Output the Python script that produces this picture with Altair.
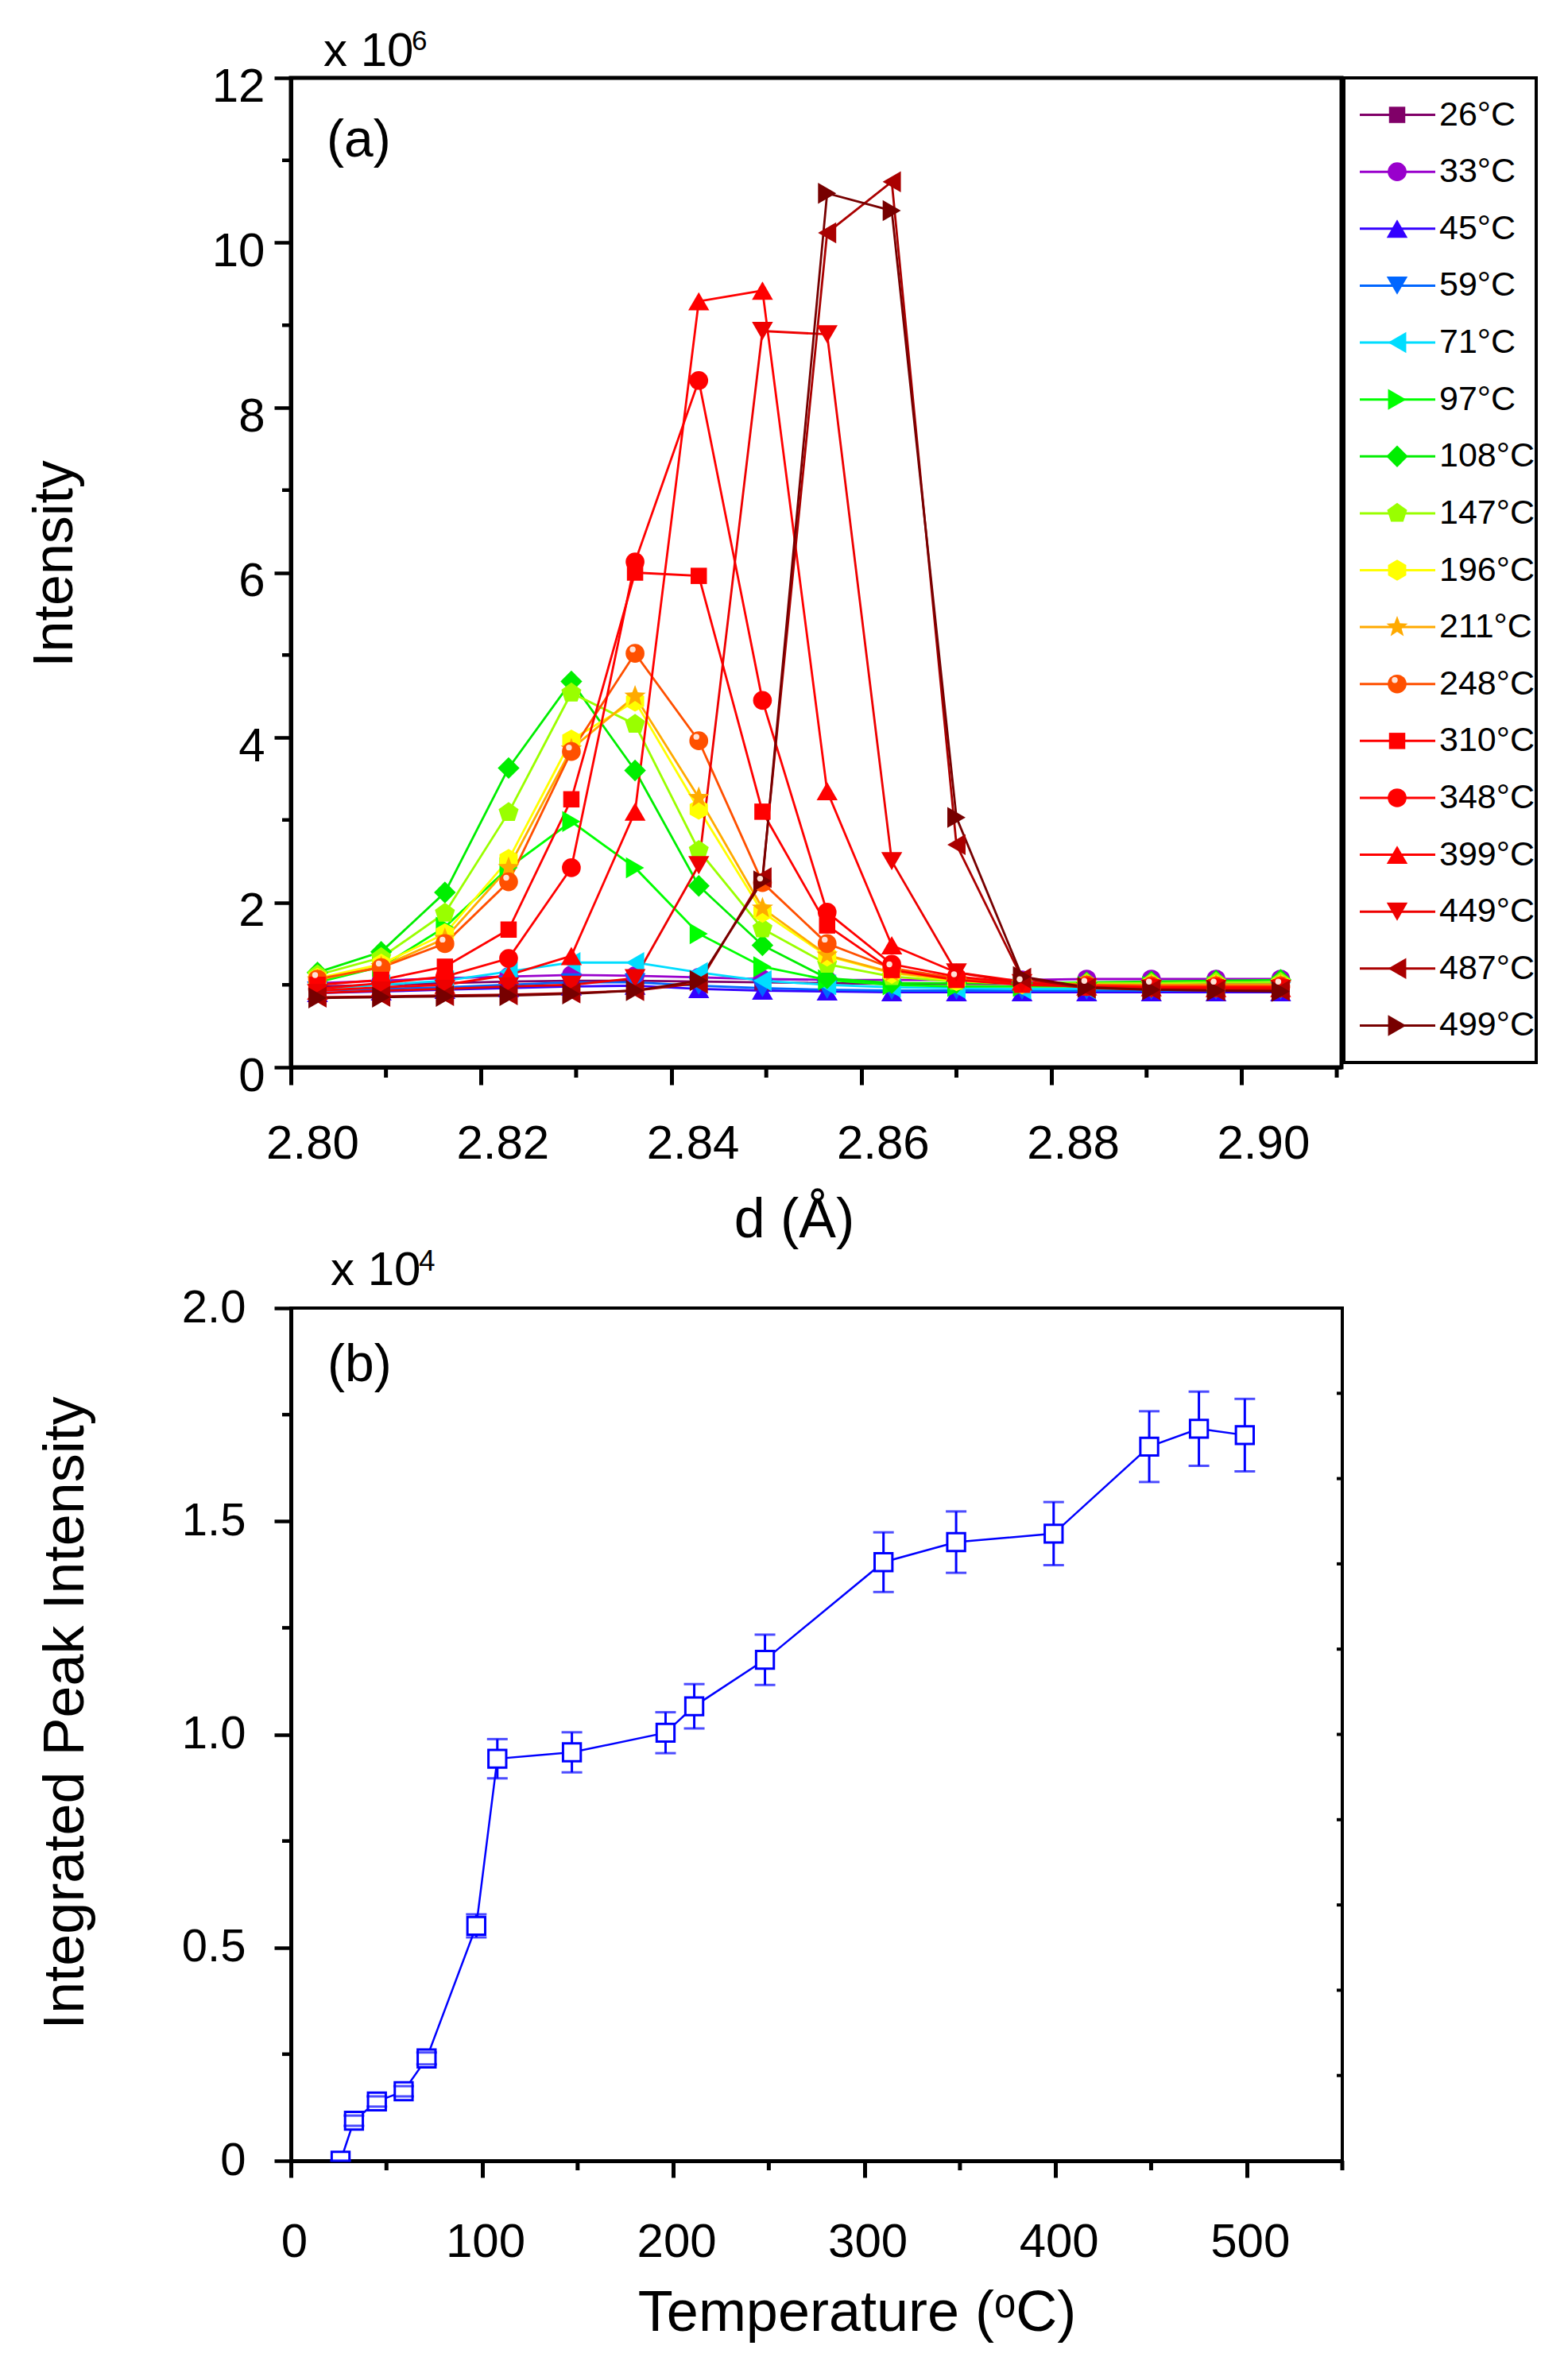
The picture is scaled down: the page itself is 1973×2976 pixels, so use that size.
import pandas as pd
import altair as alt

FONT = 'Liberation Sans'

# ---------------- (a) peak profile at each temperature ----------------
d_spacing = [2.8003, 2.8070, 2.8137, 2.8204, 2.8270, 2.8337, 2.8404, 2.8471,
             2.8539, 2.8607, 2.8675, 2.8744, 2.8812, 2.8880, 2.8948, 2.9016]

labels = ['26°C', '33°C', '45°C', '59°C', '71°C', '97°C', '108°C', '147°C', '196°C',
          '211°C', '248°C', '310°C', '348°C', '399°C', '449°C', '487°C', '499°C']

# intensity, x 10^6
i026 = [0.98, 1.00, 1.02, 1.04, 1.05, 1.05, 1.04, 1.03, 1.02, 1.01, 1.01, 1.01, 1.02, 1.02, 1.02, 1.02]
i033 = [1.02, 1.05, 1.08, 1.10, 1.12, 1.11, 1.09, 1.07, 1.06, 1.06, 1.06, 1.06, 1.07, 1.07, 1.07, 1.07]
i045 = [0.90, 0.92, 0.94, 0.96, 0.98, 0.99, 0.95, 0.93, 0.92, 0.91, 0.91, 0.91, 0.91, 0.91, 0.91, 0.91]
i059 = [0.93, 0.95, 0.97, 1.00, 1.03, 1.03, 0.99, 0.96, 0.94, 0.93, 0.93, 0.93, 0.93, 0.93, 0.93, 0.93]
i071 = [0.95, 1.00, 1.05, 1.16, 1.27, 1.27, 1.15, 1.05, 1.00, 0.97, 0.96, 0.95, 0.95, 0.95, 0.95, 0.95]
i097 = [1.03, 1.22, 1.70, 2.42, 2.98, 2.42, 1.62, 1.22, 1.06, 1.00, 0.98, 0.98, 0.98, 0.98, 0.98, 0.98]
i108 = [1.15, 1.40, 2.12, 3.63, 4.68, 3.60, 2.20, 1.48, 1.08, 1.02, 1.02, 1.02, 1.03, 1.04, 1.05, 1.06]
i147 = [1.12, 1.33, 1.87, 3.09, 4.54, 4.16, 2.63, 1.68, 1.25, 1.10, 1.04, 1.02, 1.02, 1.02, 1.03, 1.03]
i196 = [1.08, 1.25, 1.62, 2.52, 3.97, 4.44, 3.13, 1.88, 1.35, 1.14, 1.05, 1.01, 1.00, 1.00, 1.00, 1.00]
i211 = [1.06, 1.22, 1.56, 2.42, 3.86, 4.50, 3.27, 1.93, 1.36, 1.15, 1.06, 1.01, 1.00, 1.00, 1.00, 1.00]
i248 = [1.07, 1.21, 1.50, 2.25, 3.83, 5.02, 3.96, 2.24, 1.50, 1.20, 1.08, 1.02, 1.00, 0.99, 0.99, 0.99]
i310 = [1.00, 1.06, 1.22, 1.67, 3.25, 6.00, 5.96, 3.10, 1.72, 1.18, 1.06, 1.00, 0.98, 0.97, 0.97, 0.97]
i348 = [0.95, 1.02, 1.10, 1.32, 2.42, 6.13, 8.33, 4.45, 1.88, 1.25, 1.10, 1.02, 0.98, 0.97, 0.97, 0.97]
i399 = [0.93, 0.97, 1.00, 1.12, 1.35, 3.10, 9.29, 9.42, 3.35, 1.48, 1.15, 1.04, 0.98, 0.97, 0.96, 0.96]
i449 = [0.90, 0.93, 0.95, 0.98, 1.00, 1.08, 2.45, 8.93, 8.89, 2.50, 1.15, 1.02, 0.97, 0.95, 0.95, 0.95]
i487 = [0.85, 0.86, 0.87, 0.88, 0.90, 0.93, 1.02, 2.30, 10.12, 10.74, 2.70, 1.08, 0.96, 0.94, 0.93, 0.93]
i499 = [0.84, 0.85, 0.86, 0.87, 0.89, 0.93, 1.05, 2.26, 10.60, 10.39, 3.03, 1.10, 0.97, 0.94, 0.93, 0.92]

series = [i026, i033, i045, i059, i071, i097, i108, i147, i196,
          i211, i248, i310, i348, i399, i449, i487, i499]

# ---------------- (b) integrated peak intensity ----------------
temp_b = [26, 33, 45, 59, 71, 97, 108, 147, 196, 211, 248, 310, 348, 399, 449, 475, 499]
peak_b = [0.0, 0.094, 0.139, 0.163, 0.240, 0.551, 0.943, 0.958, 1.004, 1.066, 1.175,
          1.404, 1.451, 1.471, 1.675, 1.717, 1.702]
err_b = [0.0, 0.012, 0.012, 0.012, 0.014, 0.027, 0.046, 0.047, 0.048, 0.052, 0.059,
         0.070, 0.072, 0.074, 0.083, 0.087, 0.085]

# axis ticks
xa_major = [2.7975, 2.8175, 2.8375, 2.8575, 2.8775, 2.8975]
xa_minor = [2.8075, 2.8275, 2.8475, 2.8675, 2.8875, 2.9075]
ya_major = [0, 2, 4, 6, 8, 10, 12]
ya_minor = [1, 3, 5, 7, 9, 11]
xb_major = [0, 100, 200, 300, 400, 500]
xb_minor = [50, 150, 250, 350, 450, 550]
yb_major = [0, 0.5, 1.0, 1.5, 2.0]
yb_minor = [0.25, 0.75, 1.25, 1.75]
yb_right = [0.2, 0.4, 0.6, 0.8, 1.0, 1.2, 1.4, 1.6, 1.8]

# styles
colors = ['#800068', '#9900CC', '#3300FF', '#0066FF', '#00DDFF', '#00FF00', '#00EE00',
          '#99FF00', '#FFFF00', '#FFAA00', '#FF5000', '#FF0000', '#FF0000', '#FF0000',
          '#EE0000', '#AA0000', '#770000']
PENT = 'M0,-1L0.951,-0.309L0.588,0.809L-0.588,0.809L-0.951,-0.309Z'
HEX = 'M0,-1L0.866,-0.5L0.866,0.5L0,1L-0.866,0.5L-0.866,-0.5Z'
STAR = ('M0,-1L0.247,-0.34L0.951,-0.309L0.399,0.13L0.588,0.809L0,0.42'
        'L-0.588,0.809L-0.399,0.13L-0.951,-0.309L-0.247,-0.34Z')
shapes = ['square', 'circle', 'triangle-up', 'triangle-down', 'triangle-left',
          'triangle-right', 'diamond', PENT, HEX, STAR, 'circle', 'square', 'circle',
          'triangle-up', 'triangle-down', 'triangle-left', 'triangle-right']
sizes = [420, 560, 700, 700, 700, 700, 750, 700, 700, 800, 560, 420, 560, 700, 700, 700, 700]

W_A, H_A = 1322, 1245
W_L, H_L = 242, 1239
W_B, H_B = 1323, 1073

rows = []
for lab, vals in zip(labels, series):
    for d, v in zip(d_spacing, vals):
        rows.append({'label': lab, 'd': d, 'I': v})
df_a = pd.DataFrame(rows)

color_enc = alt.Color('label:N', scale=alt.Scale(domain=labels, range=colors), legend=None)
shape_enc = alt.Shape('label:N', scale=alt.Scale(domain=labels, range=shapes), legend=None)
size_enc = alt.Size('label:N', scale=alt.Scale(type='ordinal', domain=labels, range=sizes), legend=None)


def axis(**kw):
    base = dict(grid=False, domainColor='black', domainWidth=5, tickColor='black',
                labelFont=FONT, labelColor='black', labelFlush=False, labelOverlap=False,
                titleFont=FONT, titleColor='black', titleFontWeight='normal',
                titleBaseline='middle')
    base.update(kw)
    return alt.Axis(**base)


ax_xa = axis(values=xa_major, labelExpr="format(datum.value + 0.0025, '.2f')",
             labelOffset=27, tickSize=22, tickWidth=5, labelFontSize=60, labelPadding=45,
             title='d (Å)', titleFontSize=70, titleX=633, titleY=192)
ax_ya = axis(values=ya_major, tickSize=21, tickWidth=4.5, labelFontSize=60,
             labelPadding=12, labelOffset=11, title='Intensity', titleFontSize=70,
             titleX=-297, titleY=611)

xa = alt.X('d:Q', scale=alt.Scale(domain=[2.7975, 2.908], nice=False, zero=False), axis=ax_xa)
ya = alt.Y('I:Q', scale=alt.Scale(domain=[0, 12], nice=False), axis=ax_ya)


def note(text, dx, dy, size, baseline='alphabetic'):
    return alt.Chart(pd.DataFrame({'t': [text]})).mark_text(
        font=FONT, fontSize=size, align='left', baseline=baseline, color='black'
    ).encode(x=alt.value(dx), y=alt.value(dy), text='t:N')


lines_a = alt.Chart(df_a).mark_line(strokeWidth=2.8).encode(x=xa, y=ya, color=color_enc)
points_a = alt.Chart(df_a).mark_point(filled=True, opacity=1).encode(
    x=xa, y=ya, color=color_enc, shape=shape_enc, size=size_enc)
shine_a = alt.Chart(df_a).transform_filter(alt.datum.label == '248°C').mark_point(
    filled=True, opacity=1, color='#FFE2D6', shape='circle', size=55, xOffset=-3, yOffset=-5
).encode(x=xa, y=ya)
minor_xa = alt.Chart(pd.DataFrame({'d': xa_minor})).mark_rule(color='black', strokeWidth=5).encode(
    x=xa, y=alt.value(H_A), y2=alt.value(H_A + 13))
minor_ya = alt.Chart(pd.DataFrame({'I': ya_minor})).mark_rule(color='black', strokeWidth=4.5).encode(
    y=ya, x=alt.value(0), x2=alt.value(-11))

top = alt.layer(
    lines_a, points_a, shine_a, minor_xa, minor_ya,
    note('x 10', 41, -15, 60), note('6', 152, -35, 35), note('(a)', 45, 79, 66, 'middle')
).properties(width=W_A, height=H_A,
             view=alt.ViewBackground(stroke='black', strokeWidth=5, fill='white'))

# legend panel
df_leg = pd.DataFrame({'label': labels})
ly = alt.Y('label:N', scale=alt.Scale(type='point', domain=labels, padding=0.65), axis=None)
leg_line = alt.Chart(df_leg).mark_rule(strokeWidth=3).encode(
    x=alt.value(20), x2=alt.value(115), y=ly, color=color_enc)
leg_pts = alt.Chart(df_leg).mark_point(filled=True, opacity=1).encode(
    x=alt.value(67), y=ly, color=color_enc, shape=shape_enc, size=size_enc)
leg_shine = alt.Chart(df_leg).transform_filter(alt.datum.label == '248°C').mark_point(
    filled=True, opacity=1, color='#FFE2D6', shape='circle', size=55, xOffset=-3, yOffset=-5
).encode(x=alt.value(67), y=ly)
leg_txt = alt.Chart(df_leg).mark_text(
    font=FONT, fontSize=43, align='left', baseline='middle', color='black'
).encode(x=alt.value(120), y=ly, text='label:N')
legend = alt.layer(leg_line, leg_pts, leg_shine, leg_txt).properties(
    width=W_L, height=H_L, view=alt.ViewBackground(stroke='black', strokeWidth=4, fill='white'))

# ---------------- bottom panel ----------------
df_b = pd.DataFrame({'T': temp_b, 'P': peak_b,
                     'lo': [p - e for p, e in zip(peak_b, err_b)],
                     'hi': [p + e for p, e in zip(peak_b, err_b)]})

ax_xb = axis(values=xb_major, tickSize=21, tickWidth=5, labelFontSize=60, labelPadding=52,
             labelOffset=4, title='Temperature (ᵒC)', titleFontSize=72, titleX=712, titleY=191)
ax_yb = axis(values=yb_major, labelExpr="datum.value == 0 ? '0' : format(datum.value, '.1f')",
             tickSize=21, tickWidth=4.5, labelFontSize=58, labelPadding=36,
             title='Integrated Peak Intensity', titleFontSize=72, titleX=-284, titleY=509)

xsc_b = alt.Scale(domain=[0, 550], nice=False, zero=False)
ysc_b = alt.Scale(domain=[0, 2], nice=False)
xb = alt.X('T:Q', scale=xsc_b, axis=ax_xb)
yb = alt.Y('P:Q', scale=ysc_b, axis=ax_yb)
BLUE = '#0000FF'

line_b = alt.Chart(df_b).mark_line(color=BLUE, strokeWidth=2.5).encode(x=xb, y=yb)
err_rule = alt.Chart(df_b).mark_rule(color=BLUE, strokeWidth=3).encode(
    x=xb, y=alt.Y('lo:Q', scale=ysc_b, axis=ax_yb), y2='hi:Q')
squares = alt.Chart(df_b).mark_point(
    shape='square', filled=True, fill='white', stroke=BLUE, strokeWidth=3, size=500,
    opacity=1, clip=True).encode(x=xb, y=yb)
cap_lo = alt.Chart(df_b).mark_tick(orient='horizontal', size=26, thickness=3, color=BLUE).encode(
    x=xb, y=alt.Y('lo:Q', scale=ysc_b, axis=ax_yb))
cap_hi = alt.Chart(df_b).mark_tick(orient='horizontal', size=26, thickness=3, color=BLUE).encode(
    x=xb, y=alt.Y('hi:Q', scale=ysc_b, axis=ax_yb))
minor_xb = alt.Chart(pd.DataFrame({'T': xb_minor})).mark_rule(color='black', strokeWidth=5).encode(
    x=xb, y=alt.value(H_B), y2=alt.value(H_B + 12))
minor_yb = alt.Chart(pd.DataFrame({'P': yb_minor})).mark_rule(color='black', strokeWidth=4.5).encode(
    y=yb, x=alt.value(0), x2=alt.value(-11))
right_yb = alt.Chart(pd.DataFrame({'P': yb_right})).mark_rule(color='black', strokeWidth=4).encode(
    y=yb, x=alt.value(W_B), x2=alt.value(W_B - 7))

bottom = alt.layer(
    line_b, err_rule, squares, cap_lo, cap_hi, minor_xb, minor_yb, right_yb,
    note('x 10', 50, -29, 60), note('4', 161, -47, 37), note('(b)', 46, 72, 66, 'middle')
).properties(width=W_B, height=H_B,
             view=alt.ViewBackground(stroke='black', strokeWidth=4, fill='white'))

chart = alt.concat(
    top, legend, bottom, columns=2, bounds='flush',
    spacing={'row': 303, 'column': 2}
).properties(
    padding={'left': 23, 'top': 24, 'right': 10, 'bottom': 10},
    background='white'
)

chart.save('out.html', embed_options={'renderer': 'svg', 'actions': False})
